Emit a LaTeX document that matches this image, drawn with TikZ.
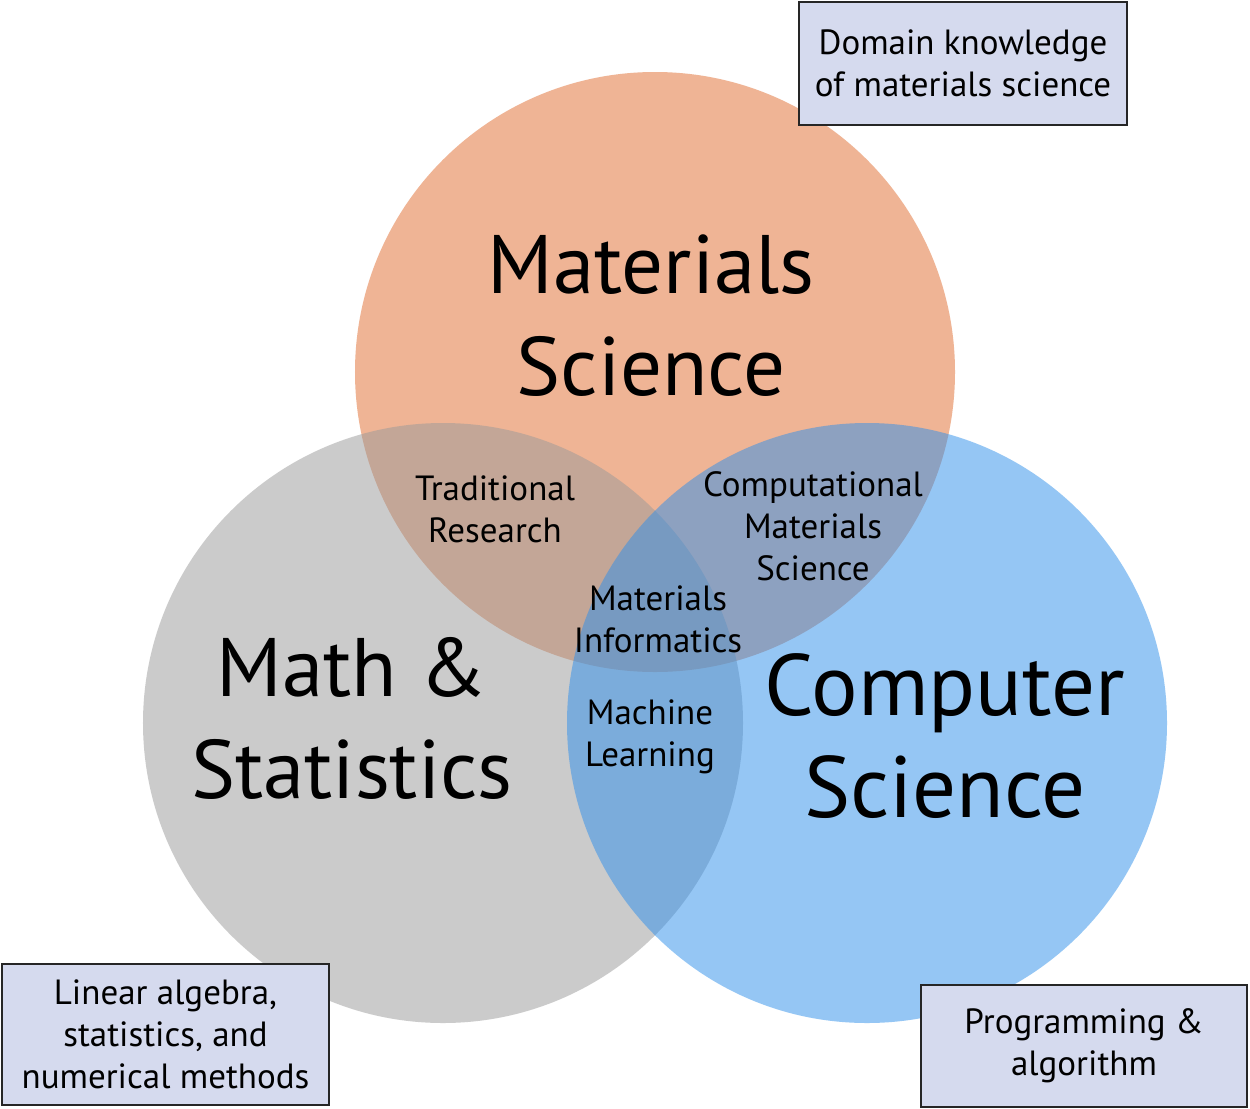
\documentclass[tikz,border=0pt]{standalone}
\usepackage{fontspec}
\setmainfont{PT Sans}
\definecolor{msfill}{HTML}{EFB495}
\definecolor{mathfill}{HTML}{999999}
\definecolor{csfill}{HTML}{2D8FEB}
\definecolor{boxfill}{HTML}{D5DAEE}
\begin{document}
\begin{tikzpicture}[x=1bp,y=-1bp,
  disk/.style={circle, minimum size=600bp, inner sep=0pt, draw=none},
  big/.style={font=\fontsize{83bp}{102bp}\selectfont, align=center, inner sep=0pt},
  mid/.style={font=\fontsize{35bp}{42bp}\selectfont, align=center, inner sep=0pt},
  infobox/.style={draw=black!85, line width=1.5bp, fill=boxfill, align=center,
    font=\fontsize{35bp}{42bp}\selectfont, inner sep=0pt}]
\useasboundingbox (0,0) rectangle (1250,1109);
\fill[white] (0,0) rectangle (1250,1109);

% the three overlapping disks
\node[disk, fill=msfill] (ms) at (655,372) {};
\node[disk, fill=mathfill, fill opacity=0.5] (math) at (443,723) {};
\node[disk, fill=csfill, fill opacity=0.5] (cs) at (867,723) {};

% field names
\node[big] (mslabel) at (651,316) {Materials\\Science};
\node[big] (mathlabel) at (352,718) {Math \&\\Statistics};
\node[big, font=\fontsize{87bp}{102bp}\selectfont] (cslabel) at (945,736) {Computer\\Science};

% overlap names
\node[mid] (trad) at (495,509) {Traditional\\Research};
\node[mid] (comp) at (813,526) {Computational\\Materials\\Science};
\node[mid] (mi) at (658,619) {Materials\\Informatics};
\node[mid] (ml) at (650,737) {Machine\\Learning};

% skill boxes
\node[infobox, minimum width=328bp, minimum height=123bp] (domain) at (963,63.5)
  {Domain knowledge\\of materials science};
\node[infobox, minimum width=327bp, minimum height=141bp] (linalg) at (165.5,1034.5)
  {Linear algebra,\\statistics, and\\numerical methods};
\node[infobox, minimum width=326bp, minimum height=122bp] (prog) at (1084,1046)
  {Programming \&\\algorithm};
\end{tikzpicture}
\end{document}
